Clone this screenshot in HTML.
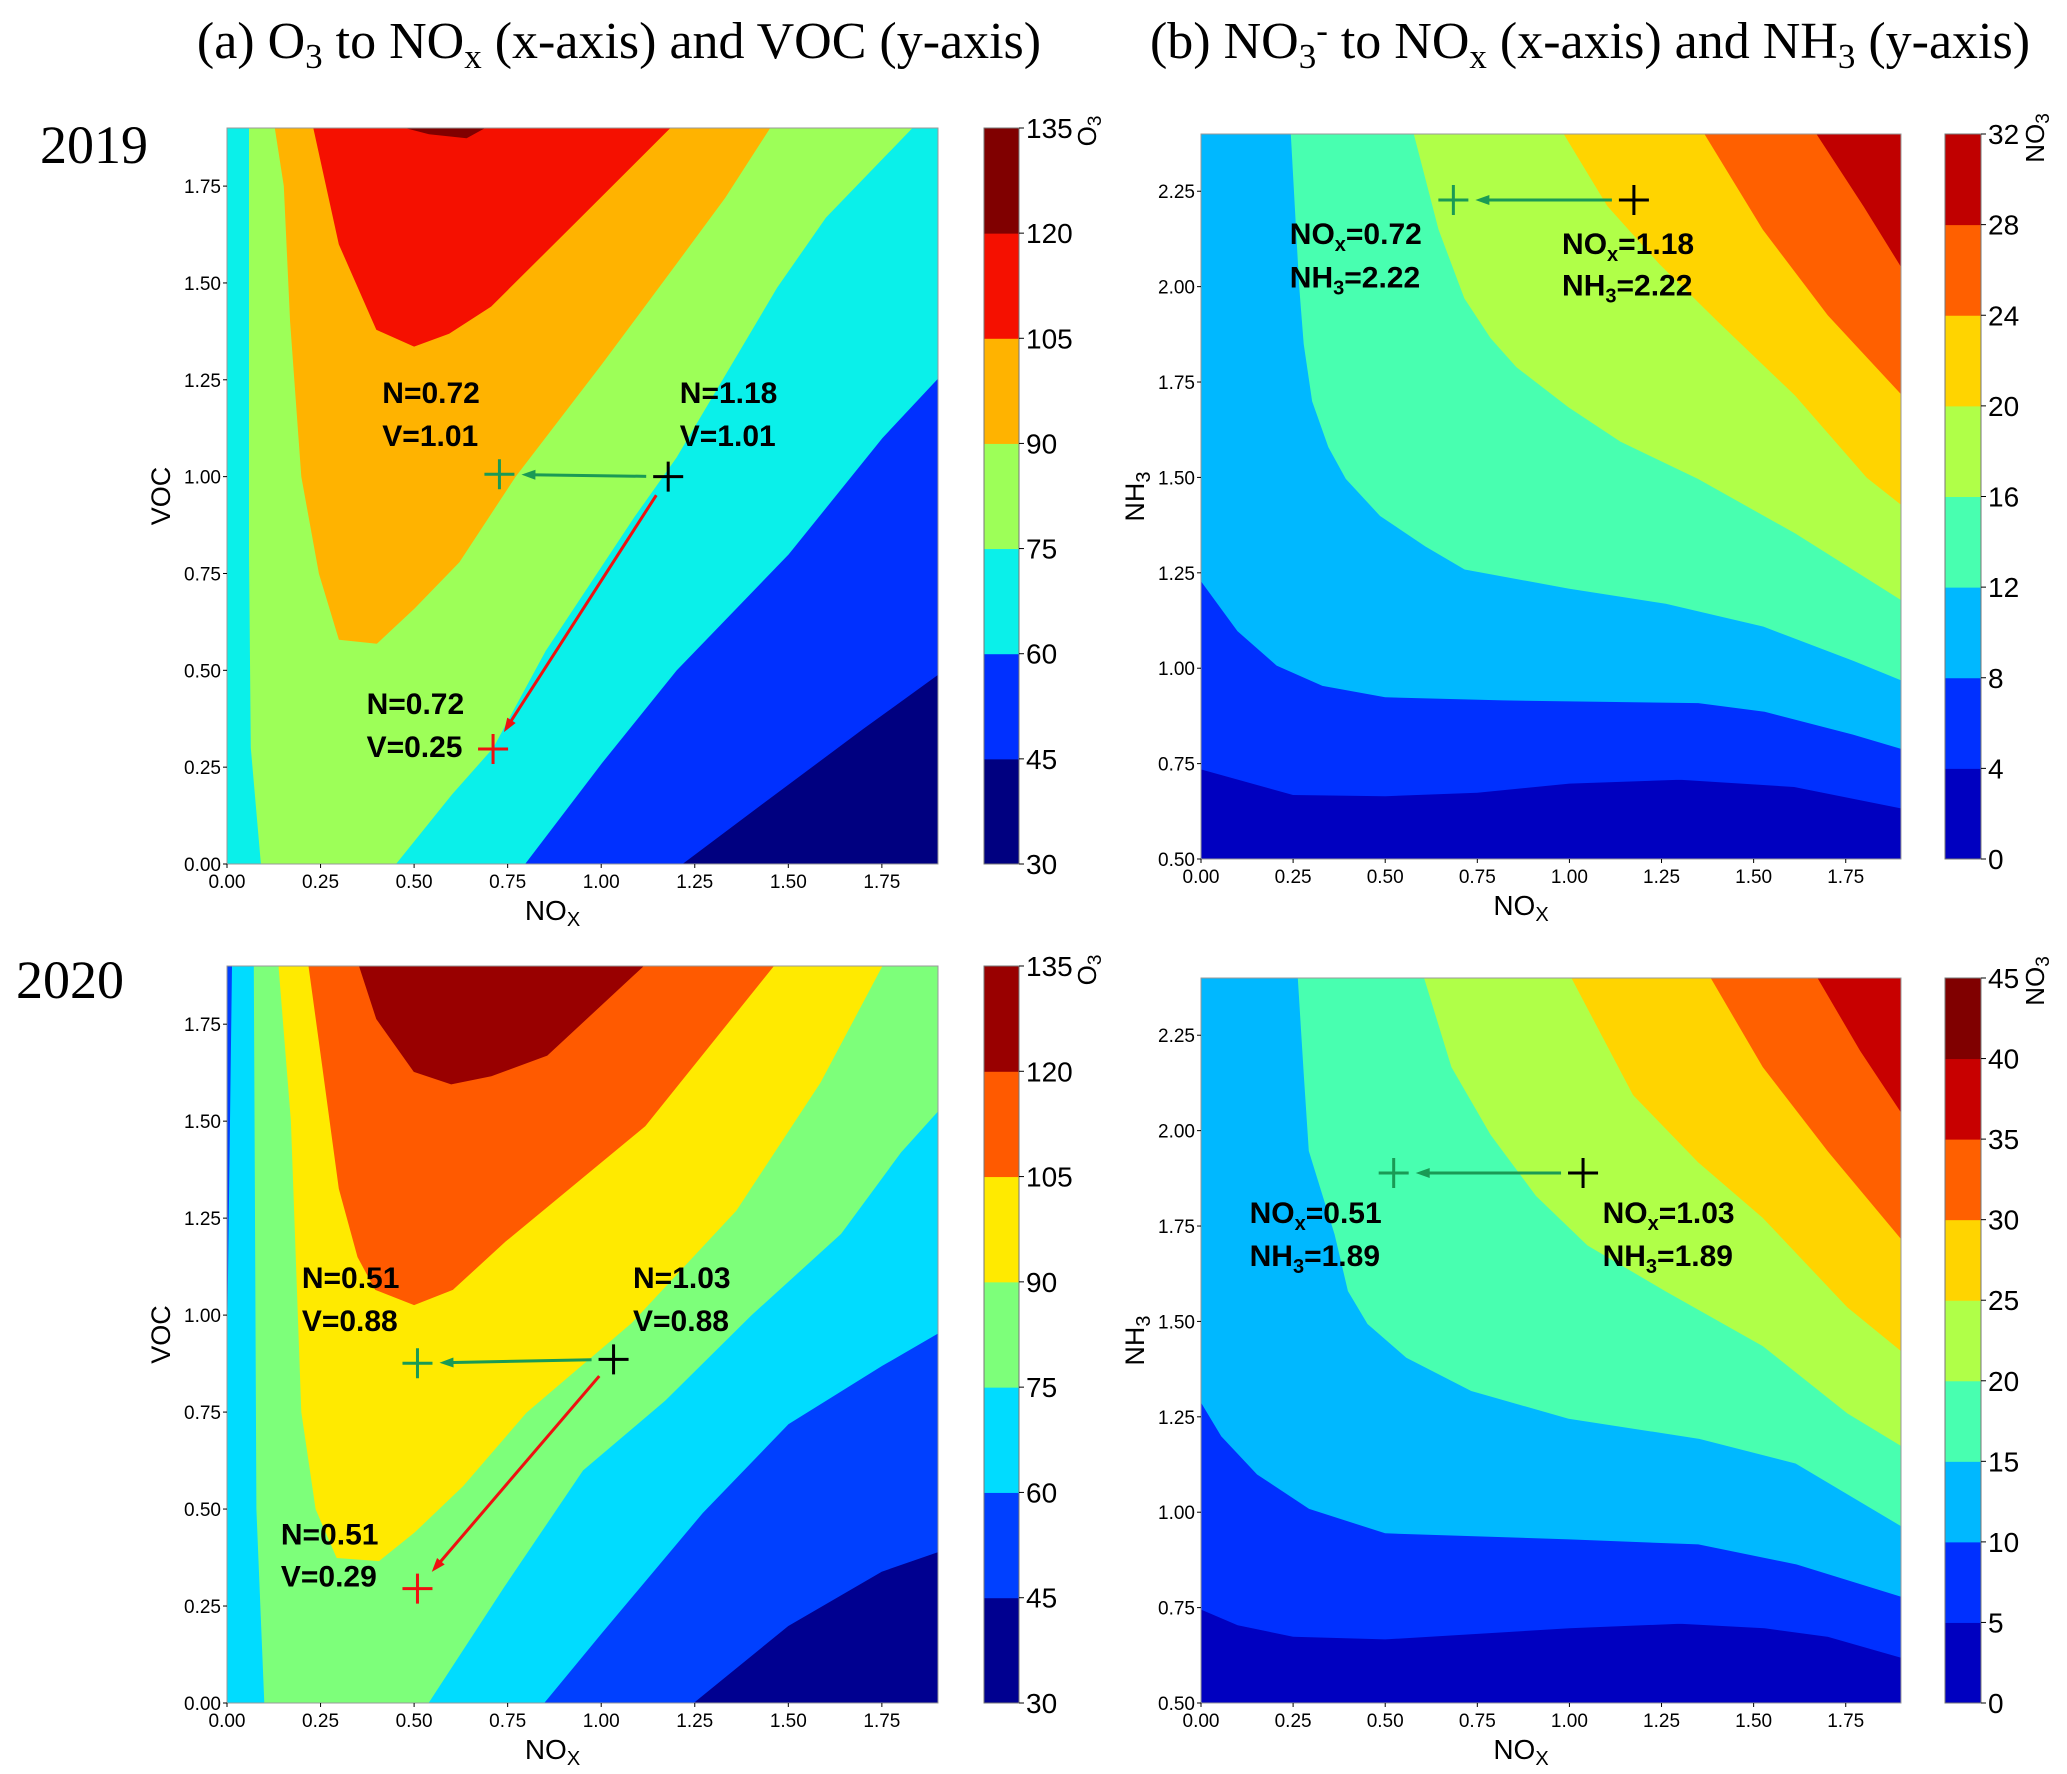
<!DOCTYPE html>
<html><head><meta charset="utf-8">
<style>
html,body{margin:0;padding:0;background:#fff;}
svg{display:block;}
</style></head>
<body>
<svg id="fig" width="2067" height="1774" viewBox="0 0 2067 1774" xmlns="http://www.w3.org/2000/svg">
<rect x="0" y="0" width="2067" height="1774" fill="#fff"/>
<text x="619" y="58" text-anchor="middle" font-family="Liberation Serif, serif" font-size="52" fill="#000">(a) O<tspan font-size="35" dy="10">3</tspan><tspan dy="-10"> to NO</tspan><tspan font-size="35" dy="10">x</tspan><tspan dy="-10"> (x-axis) and VOC (y-axis)</tspan></text>
<text x="1590" y="58" text-anchor="middle" font-family="Liberation Serif, serif" font-size="52" fill="#000">(b) NO<tspan font-size="35" dy="10">3</tspan><tspan font-size="35" dy="-26">-</tspan><tspan dy="16"> to NO</tspan><tspan font-size="35" dy="10">x</tspan><tspan dy="-10"> (x-axis) and NH</tspan><tspan font-size="35" dy="10">3</tspan><tspan dy="-10"> (y-axis)</tspan></text>
<text x="40" y="163" font-family="Liberation Serif, serif" font-size="54" fill="#000">2019</text>
<text x="16" y="998" font-family="Liberation Serif, serif" font-size="54" fill="#000">2020</text>
</svg>
<script>
// ---------- data ----------
const xTicks = [0,0.25,0.5,0.75,1.0,1.25,1.5,1.75];
const yTicksA = [0,0.25,0.5,0.75,1.0,1.25,1.5,1.75];
const yTicksB = [0.5,0.75,1.0,1.25,1.5,1.75,2.0,2.25];
const levelsA = [30,45,60,75,90,105,120,135];
const levelsB1 = [0,4,8,12,16,20,24,28,32];
const levelsB2 = [0,5,10,15,20,25,30,35,40,45];
const colorsA1 = ['#000080','#0030ff','#0af0ea','#9dff58','#ffb300','#f51000','#800000'];
const colorsA2 = ['#000090','#0040ff','#00dcff','#7dff7a','#ffea00','#ff5a00','#990000'];
const colorsB1 = ['#0000c0','#0030ff','#00b8ff','#48ffb0','#b0ff48','#ffd400','#ff6000','#c00000'];
const colorsB2 = ['#0000c0','#0030ff','#00b8ff','#48ffb0','#b0ff48','#ffd400','#ff6000','#c80000','#800000'];

// a1 (2019) regions above each level
const a1Above45 = [[0,0],[1.215,0],[1.45,0.17],[1.7,0.35],[1.9,0.49],[1.9,1.9],[0,1.9]];
const a1Above60 = [[0,0],[0.795,0],[1.0,0.26],[1.2,0.5],[1.5,0.8],[1.75,1.1],[1.9,1.255],[1.9,1.9],[0,1.9]];
const a1Above75 = [[0.092,0],[0.45,0],[0.6,0.18],[0.71,0.3],[0.85,0.55],[1.09,0.9],[1.2,1.05],[1.47,1.49],[1.6,1.67],[1.83,1.9],[0.06,1.9],[0.06,0.8],[0.065,0.3]];
const a1Above90 = [[0.129,1.9],[0.153,1.75],[0.17,1.4],[0.2,1.0],[0.247,0.75],[0.3,0.58],[0.4,0.57],[0.5,0.66],[0.62,0.78],[0.77,1.0],[1.0,1.29],[1.2,1.55],[1.33,1.72],[1.45,1.9]];
const a1Above105 = [[0.232,1.9],[0.30,1.6],[0.40,1.38],[0.50,1.337],[0.593,1.37],[0.705,1.44],[0.93,1.656],[1.183,1.9]];
const a1Above120 = [[0.481,1.9],[0.54,1.885],[0.64,1.875],[0.687,1.9]];

// a2 (2020)
const a2Above45 = [[0,0],[1.245,0],[1.5,0.2],[1.75,0.34],[1.9,0.39],[1.9,1.9],[0,1.9]];
const a2Above60 = [[0,0],[0.846,0],[1.0,0.18],[1.27,0.49],[1.5,0.72],[1.75,0.87],[1.9,0.954],[1.9,1.9],[0,1.9]];
const a2Above75 = [[0.101,0],[0.537,0],[0.74,0.3],[0.95,0.6],[1.17,0.78],[1.4,1.0],[1.64,1.21],[1.8,1.42],[1.9,1.527],[1.9,1.9],[0.073,1.9],[0.08,0.5]];
const a2Above90 = [[0.139,1.9],[0.172,1.5],[0.2,0.75],[0.238,0.5],[0.294,0.375],[0.406,0.367],[0.5,0.44],[0.63,0.56],[0.8,0.75],[1.08,0.98],[1.36,1.27],[1.585,1.6],[1.75,1.9]];
const a2Above105 = [[0.219,1.9],[0.256,1.64],[0.3,1.326],[0.35,1.15],[0.397,1.066],[0.5,1.027],[0.603,1.066],[0.743,1.19],[1.117,1.488],[1.46,1.9]];
const a2Above120 = [[0.354,1.9],[0.4,1.764],[0.5,1.628],[0.599,1.596],[0.706,1.617],[0.855,1.67],[1.112,1.9]];
const a2LowSliver = [[0,1.0],[0.012,1.9],[0,1.9]];

// b1 (2019)
const b1Above4 = [[0,0.736],[0.25,0.669],[0.5,0.666],[0.75,0.675],[1.0,0.699],[1.3,0.709],[1.61,0.69],[1.9,0.634],[1.9,2.4],[0,2.4]];
const b1Above8 = [[0,1.23],[0.1,1.098],[0.206,1.008],[0.33,0.955],[0.5,0.925],[0.82,0.917],[1.35,0.91],[1.53,0.887],[1.77,0.827],[1.9,0.79],[1.9,2.4],[0,2.4]];
const b1Above12 = [[0.245,2.4],[0.268,2.0],[0.28,1.85],[0.303,1.70],[0.347,1.58],[0.394,1.497],[0.487,1.40],[0.61,1.32],[0.716,1.26],[0.998,1.21],[1.262,1.17],[1.527,1.11],[1.773,1.02],[1.9,0.97],[1.9,2.4]];
const b1Above16 = [[0.579,2.4],[0.646,2.15],[0.716,1.97],[0.787,1.866],[0.857,1.79],[0.998,1.685],[1.139,1.595],[1.35,1.497],[1.614,1.354],[1.9,1.18],[1.9,2.4]];
const b1Above20 = [[0.986,2.4],[1.104,2.212],[1.245,2.06],[1.403,1.91],[1.614,1.715],[1.808,1.5],[1.9,1.43],[1.9,2.4]];
const b1Above24 = [[1.368,2.4],[1.526,2.15],[1.702,1.926],[1.9,1.72],[1.9,2.4]];
const b1Above28 = [[1.672,2.4],[1.8,2.21],[1.9,2.054],[1.9,2.4]];

// b2 (2020)
const b2Above5 = [[0,0.746],[0.1,0.705],[0.25,0.675],[0.5,0.668],[1.0,0.697],[1.3,0.709],[1.53,0.697],[1.7,0.675],[1.9,0.62],[1.9,2.4],[0,2.4]];
const b2Above10 = [[0,1.29],[0.056,1.2],[0.153,1.1],[0.294,1.01],[0.5,0.946],[1.0,0.93],[1.35,0.917],[1.614,0.865],[1.9,0.78],[1.9,2.4],[0,2.4]];
const b2Above15 = [[0.264,2.4],[0.28,2.15],[0.294,1.947],[0.364,1.728],[0.4,1.58],[0.453,1.494],[0.558,1.406],[0.734,1.319],[0.998,1.246],[1.35,1.194],[1.614,1.129],[1.9,0.965],[1.9,2.4]];
const b2Above20 = [[0.607,2.4],[0.681,2.167],[0.787,1.99],[0.91,1.83],[1.05,1.7],[1.262,1.58],[1.526,1.436],[1.755,1.26],[1.9,1.175],[1.9,2.4]];
const b2Above25 = [[1.007,2.4],[1.174,2.094],[1.35,1.918],[1.526,1.772],[1.755,1.538],[1.9,1.424],[1.9,2.4]];
const b2Above30 = [[1.385,2.4],[1.526,2.167],[1.702,1.947],[1.9,1.718],[1.9,2.4]];
const b2Above35 = [[1.675,2.4],[1.79,2.21],[1.9,2.05],[1.9,2.4]];

// markers: [x, y]
const a1Base = [1.179,1.0];
const a1NoxCut = [0.728,1.006];
const a1BothCut = [0.711,0.297];
const a2Base = [1.033,0.886];
const a2NoxCut = [0.509,0.876];
const a2BothCut = [0.509,0.295];
const b1Base = [1.175,2.227];
const b1NoxCut = [0.685,2.227];
const b2Base = [1.037,1.889];
const b2NoxCut = [0.523,1.889];

// ---------- drawing ----------
const NS = 'http://www.w3.org/2000/svg';
const svg = document.getElementById('fig');
function mk(tag, attrs, parent){
  const e = document.createElementNS(NS, tag);
  for (const k in attrs) e.setAttribute(k, attrs[k]);
  (parent||svg).appendChild(e);
  return e;
}
function makeAxis(box, xmin, xmax, ymin, ymax){
  return {
    sx: v => box.x0 + (v - xmin) / (xmax - xmin) * (box.x1 - box.x0),
    sy: v => box.y1 - (v - ymin) / (ymax - ymin) * (box.y1 - box.y0),
    box: box
  };
}
function poly(ax, pts, color, g){
  const d = pts.map(p => ax.sx(p[0]).toFixed(1) + ',' + ax.sy(p[1]).toFixed(1)).join(' ');
  const e = mk('polygon', {points: d, fill: color, stroke: color, 'stroke-width': 1}, g);
  
  
  return e;
}
function drawPanel(opts){
  const ax = makeAxis(opts.box, opts.xmin, opts.xmax, opts.ymin, opts.ymax);
  const b = opts.box;
  const g = mk('g', {});
  
  
  const bg = mk('rect', {x: b.x0, y: b.y0, width: b.x1 - b.x0, height: b.y1 - b.y0, fill: opts.colors[0]}, g);
  
  
  opts.regions.forEach((r, i) => poly(ax, r, opts.colors[i + 1], g));
  (opts.extra || []).forEach(r => poly(ax, r[0], opts.colors[r[1]], g));
  const fr = mk('rect', {x: b.x0, y: b.y0, width: b.x1 - b.x0, height: b.y1 - b.y0, fill: 'none', stroke: '#999', 'stroke-width': 1}, g);
  
  
  xTicks.forEach(t => {
    const x = ax.sx(t);
    mk('line', {x1: x, x2: x, y1: b.y1, y2: b.y1 + 4, stroke: '#000', 'stroke-width': 1}, g);
    const tx = mk('text', {x: x, y: b.y1 + 24, 'text-anchor': 'middle', 'font-family': 'Liberation Sans, sans-serif', 'font-size': 19, fill: '#000'}, g);
    
    
    tx.textContent = t.toFixed(2);
  });
  opts.yTicks.forEach(t => {
    const y = ax.sy(t);
    mk('line', {x1: b.x0 - 4, x2: b.x0, y1: y, y2: y, stroke: '#000', 'stroke-width': 1}, g);
    const ty = mk('text', {x: b.x0 - 6, y: y + 7, 'text-anchor': 'end', 'font-family': 'Liberation Sans, sans-serif', 'font-size': 19, fill: '#000'}, g);
    
    
    ty.textContent = t.toFixed(2);
  });
  const xl = mk('text', {x: (b.x0 + b.x1) / 2 - 30, y: b.y1 + 56, 'text-anchor': 'middle', 'font-family': 'Liberation Sans, sans-serif', 'font-size': 28, fill: '#000'}, g);
  
  
  xl.innerHTML = 'NO<tspan font-size="20" dy="6">X</tspan>';
  const yl = mk('text', {x: 0, y: 0, 'text-anchor': 'middle', 'font-family': 'Liberation Sans, sans-serif', 'font-size': 27, fill: '#000', transform: 'translate(' + (b.x0 - 57) + ',' + ((b.y0 + b.y1) / 2) + ') rotate(-90)'}, g);
  
  
  yl.innerHTML = opts.ylabel;
  const cb = opts.cbar;
  const n = opts.colors.length;
  const lv = opts.levels;
  const cbY = v => b.y1 - (v - lv[0]) / (lv[lv.length - 1] - lv[0]) * (b.y1 - b.y0);
  for (let i = 0; i < n; i++) {
    const r = mk('rect', {x: cb.x0, y: cbY(lv[i + 1]), width: cb.x1 - cb.x0, height: cbY(lv[i]) - cbY(lv[i + 1]) + 0.5, fill: opts.colors[i]}, g);
    
    
  }
  mk('rect', {x: cb.x0, y: b.y0, width: cb.x1 - cb.x0, height: b.y1 - b.y0, fill: 'none', stroke: '#777', 'stroke-width': 1}, g);
  lv.forEach(v => {
    const y = cbY(v);
    mk('line', {x1: cb.x1, x2: cb.x1 + 5, y1: y, y2: y, stroke: '#000', 'stroke-width': 1}, g);
    const t = mk('text', {x: cb.x1 + 7, y: y + 10, 'font-family': 'Liberation Sans, sans-serif', 'font-size': 28, fill: '#000'}, g);
    
    
    t.textContent = v;
  });
  const cl = mk('text', {x: 0, y: 0, 'text-anchor': 'middle', 'font-family': 'Liberation Sans, sans-serif', 'font-size': 26, fill: '#000', transform: 'translate(' + cb.lx + ',' + cb.ly + ') rotate(-90)'}, g);
  
  
  cl.innerHTML = opts.cbLabel;
  return {ax: ax, g: g};
}
function cross(ax, p, color, g){
  const x = ax.sx(p[0]), y = ax.sy(p[1]);
  const e = mk('path', {d: 'M' + (x - 15) + ' ' + y + 'H' + (x + 15) + 'M' + x + ' ' + (y - 15) + 'V' + (y + 15), stroke: color, 'stroke-width': 3, fill: 'none'}, g);
  
  
}
function arrow(ax, from, to, color, g, gapStart, gapEnd){
  let x1 = ax.sx(from[0]), y1 = ax.sy(from[1]), x2 = ax.sx(to[0]), y2 = ax.sy(to[1]);
  const dx = x2 - x1, dy = y2 - y1, L = Math.hypot(dx, dy), ux = dx / L, uy = dy / L;
  x1 += ux * gapStart; y1 += uy * gapStart; x2 -= ux * gapEnd; y2 -= uy * gapEnd;
  const ln = mk('line', {x1: x1, y1: y1, x2: x2 - ux * 8, y2: y2 - uy * 8, stroke: color, 'stroke-width': 3}, g);
  
  
  const px = -uy, py = ux;
  const hd = mk('polygon', {points: [x2, y2, x2 - ux * 14 + px * 5, y2 - uy * 14 + py * 5, x2 - ux * 14 - px * 5, y2 - uy * 14 - py * 5].join(','), fill: color}, g);
  
  
}
function label(ax, x, y, html, g){
  const t = mk('text', {x: ax.sx(x), y: ax.sy(y) + 11, 'font-family': 'Liberation Sans, sans-serif', 'font-size': 30, 'font-weight': 'bold', fill: '#000'}, g);
  
  
  t.innerHTML = html;
}
const SUB = s => '<tspan font-size="20" dy="7">' + s + '</tspan><tspan dy="-7">';

const pA1 = drawPanel({name: 'panel-a-2019', box: {x0: 227, x1: 938, y0: 128, y1: 864}, xmin: 0, xmax: 1.9, ymin: 0, ymax: 1.9,
  colors: colorsA1, levels: levelsA, regions: [a1Above45, a1Above60, a1Above75, a1Above90, a1Above105, a1Above120],
  yTicks: yTicksA, ylabel: 'VOC', cbar: {x0: 984, x1: 1019, lx: 1096, ly: 131}, cbLabel: 'O<tspan font-size="19" dy="5">3</tspan>'});
arrow(pA1.ax, a1Base, a1NoxCut, '#1a9a55', pA1.g, 22, 22);
arrow(pA1.ax, a1Base, a1BothCut, '#ee1111', pA1.g, 22, 20);
cross(pA1.ax, a1NoxCut, '#1a9a55', pA1.g);
cross(pA1.ax, a1Base, '#000', pA1.g);
cross(pA1.ax, a1BothCut, '#ee1111', pA1.g);
label(pA1.ax, 0.415, 1.218, 'N=0.72', pA1.g);
label(pA1.ax, 0.415, 1.107, 'V=1.01', pA1.g);
label(pA1.ax, 1.21, 1.218, 'N=1.18', pA1.g);
label(pA1.ax, 1.21, 1.107, 'V=1.01', pA1.g);
label(pA1.ax, 0.373, 0.416, 'N=0.72', pA1.g);
label(pA1.ax, 0.373, 0.305, 'V=0.25', pA1.g);

const pA2 = drawPanel({name: 'panel-a-2020', box: {x0: 227, x1: 938, y0: 966, y1: 1703}, xmin: 0, xmax: 1.9, ymin: 0, ymax: 1.9,
  colors: colorsA2, levels: levelsA, regions: [a2Above45, a2Above60, a2Above75, a2Above90, a2Above105, a2Above120],
  extra: [[a2LowSliver, 1]],
  yTicks: yTicksA, ylabel: 'VOC', cbar: {x0: 984, x1: 1019, lx: 1096, ly: 970}, cbLabel: 'O<tspan font-size="19" dy="5">3</tspan>'});
arrow(pA2.ax, a2Base, a2NoxCut, '#1a9a55', pA2.g, 22, 22);
arrow(pA2.ax, a2Base, a2BothCut, '#ee1111', pA2.g, 22, 22);
cross(pA2.ax, a2NoxCut, '#1a9a55', pA2.g);
cross(pA2.ax, a2Base, '#000', pA2.g);
cross(pA2.ax, a2BothCut, '#ee1111', pA2.g);
label(pA2.ax, 0.2, 1.098, 'N=0.51', pA2.g);
label(pA2.ax, 0.2, 0.987, 'V=0.88', pA2.g);
label(pA2.ax, 1.085, 1.098, 'N=1.03', pA2.g);
label(pA2.ax, 1.085, 0.987, 'V=0.88', pA2.g);
label(pA2.ax, 0.144, 0.437, 'N=0.51', pA2.g);
label(pA2.ax, 0.144, 0.329, 'V=0.29', pA2.g);

const pB1 = drawPanel({name: 'panel-b-2019', box: {x0: 1201, x1: 1901, y0: 134, y1: 859}, xmin: 0, xmax: 1.9, ymin: 0.5, ymax: 2.4,
  colors: colorsB1, levels: levelsB1, regions: [b1Above4, b1Above8, b1Above12, b1Above16, b1Above20, b1Above24, b1Above28],
  yTicks: yTicksB, ylabel: 'NH<tspan font-size="20" dy="6">3</tspan>', cbar: {x0: 1945, x1: 1981, lx: 2044, ly: 138}, cbLabel: 'NO<tspan font-size="19" dy="5">3</tspan>'});
arrow(pB1.ax, b1Base, b1NoxCut, '#1a9a55', pB1.g, 22, 22);
cross(pB1.ax, b1NoxCut, '#1a9a55', pB1.g);
cross(pB1.ax, b1Base, '#000', pB1.g);
label(pB1.ax, 0.241, 2.14, 'NO' + SUB('x') + '=0.72</tspan>', pB1.g);
label(pB1.ax, 0.241, 2.027, 'NH' + SUB('3') + '=2.22</tspan>', pB1.g);
label(pB1.ax, 0.98, 2.114, 'NO' + SUB('x') + '=1.18</tspan>', pB1.g);
label(pB1.ax, 0.98, 2.005, 'NH' + SUB('3') + '=2.22</tspan>', pB1.g);

const pB2 = drawPanel({name: 'panel-b-2020', box: {x0: 1201, x1: 1901, y0: 978, y1: 1703}, xmin: 0, xmax: 1.9, ymin: 0.5, ymax: 2.4,
  colors: colorsB2, levels: levelsB2, regions: [b2Above5, b2Above10, b2Above15, b2Above20, b2Above25, b2Above30, b2Above35],
  yTicks: yTicksB, ylabel: 'NH<tspan font-size="20" dy="6">3</tspan>', cbar: {x0: 1945, x1: 1981, lx: 2044, ly: 981}, cbLabel: 'NO<tspan font-size="19" dy="5">3</tspan>'});
arrow(pB2.ax, b2Base, b2NoxCut, '#1a9a55', pB2.g, 22, 22);
cross(pB2.ax, b2NoxCut, '#1a9a55', pB2.g);
cross(pB2.ax, b2Base, '#000', pB2.g);
label(pB2.ax, 0.132, 1.787, 'NO' + SUB('x') + '=0.51</tspan>', pB2.g);
label(pB2.ax, 0.132, 1.674, 'NH' + SUB('3') + '=1.89</tspan>', pB2.g);
label(pB2.ax, 1.09, 1.787, 'NO' + SUB('x') + '=1.03</tspan>', pB2.g);
label(pB2.ax, 1.09, 1.674, 'NH' + SUB('3') + '=1.89</tspan>', pB2.g);
</script>
</body></html>
